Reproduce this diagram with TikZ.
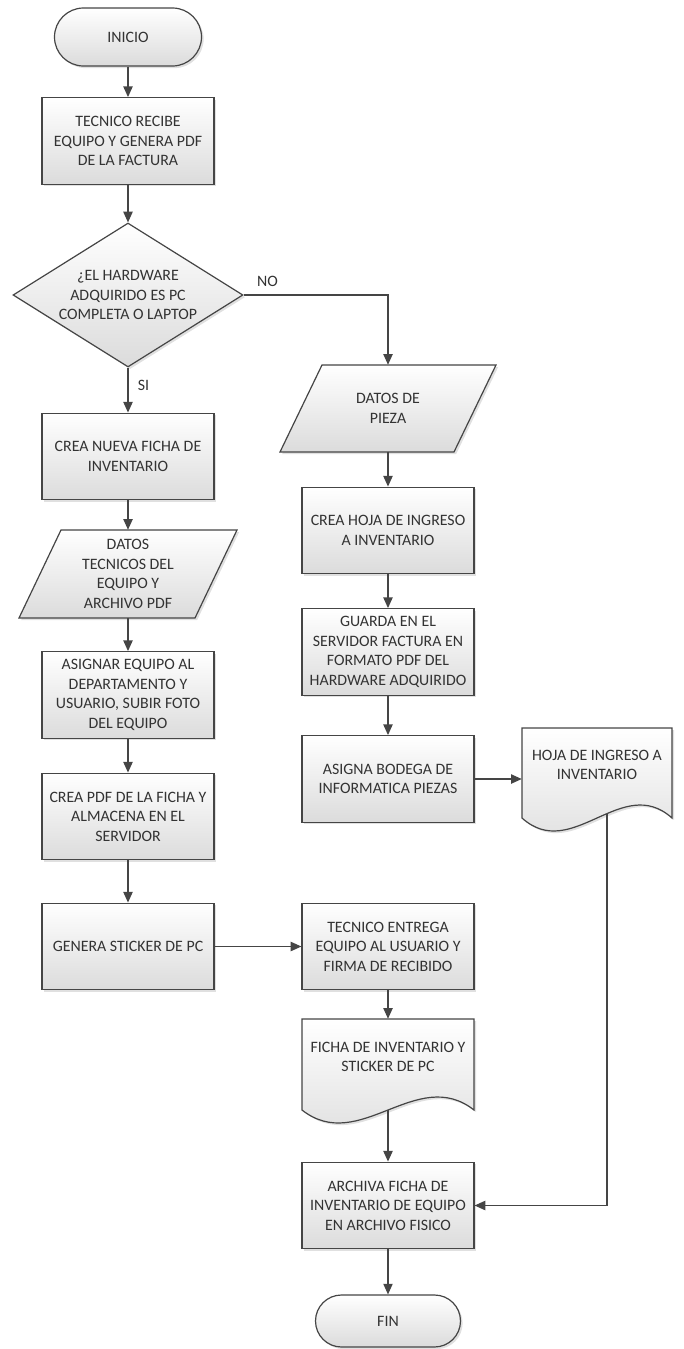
\documentclass[tikz,border=0pt]{standalone}
\usepackage{fontspec}
\setmainfont{Carlito}
\usetikzlibrary{shapes.geometric,arrows.meta,shadows,calc}
\definecolor{ln}{HTML}{454545}
\definecolor{tx}{HTML}{333333}
\tikzset{
  fnt/.style={font=\fontsize{11.9}{14.7}\selectfont},
  shp/.style={draw=ln, line width=0.9pt, top color=white, bottom color=black!14,
    drop shadow={shadow xshift=1.6pt, shadow yshift=-1.6pt, opacity=0.3, fill=black!40}},
  base/.style={shp, fnt, text=tx, align=center, inner sep=2pt},
  proc/.style={base, rectangle, minimum width=129pt, minimum height=65pt},
  term/.style={base, rectangle, rounded corners=21.75pt, minimum width=110.25pt, minimum height=43.5pt},
  decision/.style={shp, diamond, shape aspect=1.6, minimum width=172.5pt, minimum height=108pt, inner sep=0pt},
  txt/.style={fnt, text=tx, align=center, inner sep=0pt},
  lbl/.style={fnt, text=tx, inner sep=0pt},
  conn/.style={draw=ln, line width=0.9pt, -{Triangle[length=8pt,width=7pt]}}
}
\begin{document}
\begin{tikzpicture}[x=0.75pt,y=-0.75pt]
\useasboundingbox (0,0) rectangle (684,1349);

% left column
\node[term] (inicio) at (128,37) {INICIO};
\node[proc] (recibe) at (128,141) {TECNICO RECIBE\\EQUIPO Y GENERA PDF\\DE LA FACTURA};
\node[decision] (dec) at (128,295) {};
\node[txt] (dectxt) at (dec.center) {¿EL HARDWARE\\ADQUIRIDO ES PC\\COMPLETA O LAPTOP};
\node[proc] (nueva) at (128,456.5) {CREA NUEVA FICHA DE\\INVENTARIO};
\path[shp] (61,530) -- (237,530) -- (195,618) -- (19,618) -- cycle;
\node[txt, minimum width=132pt, minimum height=66pt] (dt) at (128,574) {DATOS\\TECNICOS DEL\\EQUIPO Y\\ARCHIVO PDF};
\node[proc] (asignar) at (128,695) {ASIGNAR EQUIPO AL\\DEPARTAMENTO Y\\USUARIO, SUBIR FOTO\\DEL EQUIPO};
\node[proc] (creapdf) at (128,816.5) {CREA PDF DE LA FICHA Y\\ALMACENA EN EL\\SERVIDOR};
\node[proc] (genera) at (128,946.5) {GENERA STICKER DE PC};

% right column
\path[shp] (322,365) -- (496,365) -- (454,452) -- (280,452) -- cycle;
\node[txt, minimum width=130.5pt, minimum height=65.25pt] (dp) at (388,408.5) {DATOS DE\\PIEZA};
\node[proc] (hoja1) at (388,530.5) {CREA HOJA DE INGRESO\\A INVENTARIO};
\node[proc] (guarda) at (388,652) {GUARDA EN EL\\SERVIDOR FACTURA EN\\FORMATO PDF DEL\\HARDWARE ADQUIRIDO};
\node[proc] (asigna) at (388,779) {ASIGNA BODEGA DE\\INFORMATICA PIEZAS};
\node[proc] (entrega) at (388,946.5) {TECNICO ENTREGA\\EQUIPO AL USUARIO Y\\FIRMA DE RECIBIDO};
\path[shp] (302,1019) -- (474,1019) -- (474,1110) .. controls (416.7,1065) and (359.3,1155) .. (302,1110) -- cycle;
\node[txt, minimum width=129pt, minimum height=57pt] (ficha) at (388,1057) {FICHA DE INVENTARIO Y\\STICKER DE PC};
\coordinate (fichab) at (388,1110);
\node[proc] (archiva) at (388,1205.5) {ARCHIVA FICHA DE\\INVENTARIO DE EQUIPO\\EN ARCHIVO FISICO};
\node[term, minimum width=108.75pt, minimum height=39pt, rounded corners=19.5pt] (fin) at (388,1321) {FIN};

% document far right
\path[shp] (522,728) -- (672,728) -- (672,818) .. controls (622,773) and (572,863) .. (522,818) -- cycle;
\node[txt, minimum width=112.5pt, minimum height=55.5pt] (hoja) at (597,765) {HOJA DE INGRESO A\\INVENTARIO};
\coordinate (hojab) at (607,813.6);

% connectors
\draw[conn] (inicio) -- (recibe);
\draw[conn] (recibe) -- (dec.north);
\draw[conn] (dec.south) -- node[lbl, pos=0.39, right=7pt] {SI} (nueva.north);
\draw[conn] (dec.east) -- node[lbl, pos=0.165, above=6pt] {NO} (dec.east -| dp.north) -- (dp.north);
\draw[conn] (nueva) -- (dt.north);
\draw[conn] (dt.south) -- (asignar);
\draw[conn] (asignar) -- (creapdf);
\draw[conn] (creapdf) -- (genera);
\draw[conn] (genera) -- (entrega);
\draw[conn] (dp.south) -- (hoja1);
\draw[conn] (hoja1) -- (guarda);
\draw[conn] (guarda) -- (asigna);
\draw[conn] (asigna.east) -- (asigna.east -| hoja.west);
\draw[conn] (hojab) |- (archiva.east);
\draw[conn] (entrega) -- (ficha.north);
\draw[conn] (fichab) -- (archiva.north);
\draw[conn] (archiva) -- (fin);
\end{tikzpicture}
\end{document}
